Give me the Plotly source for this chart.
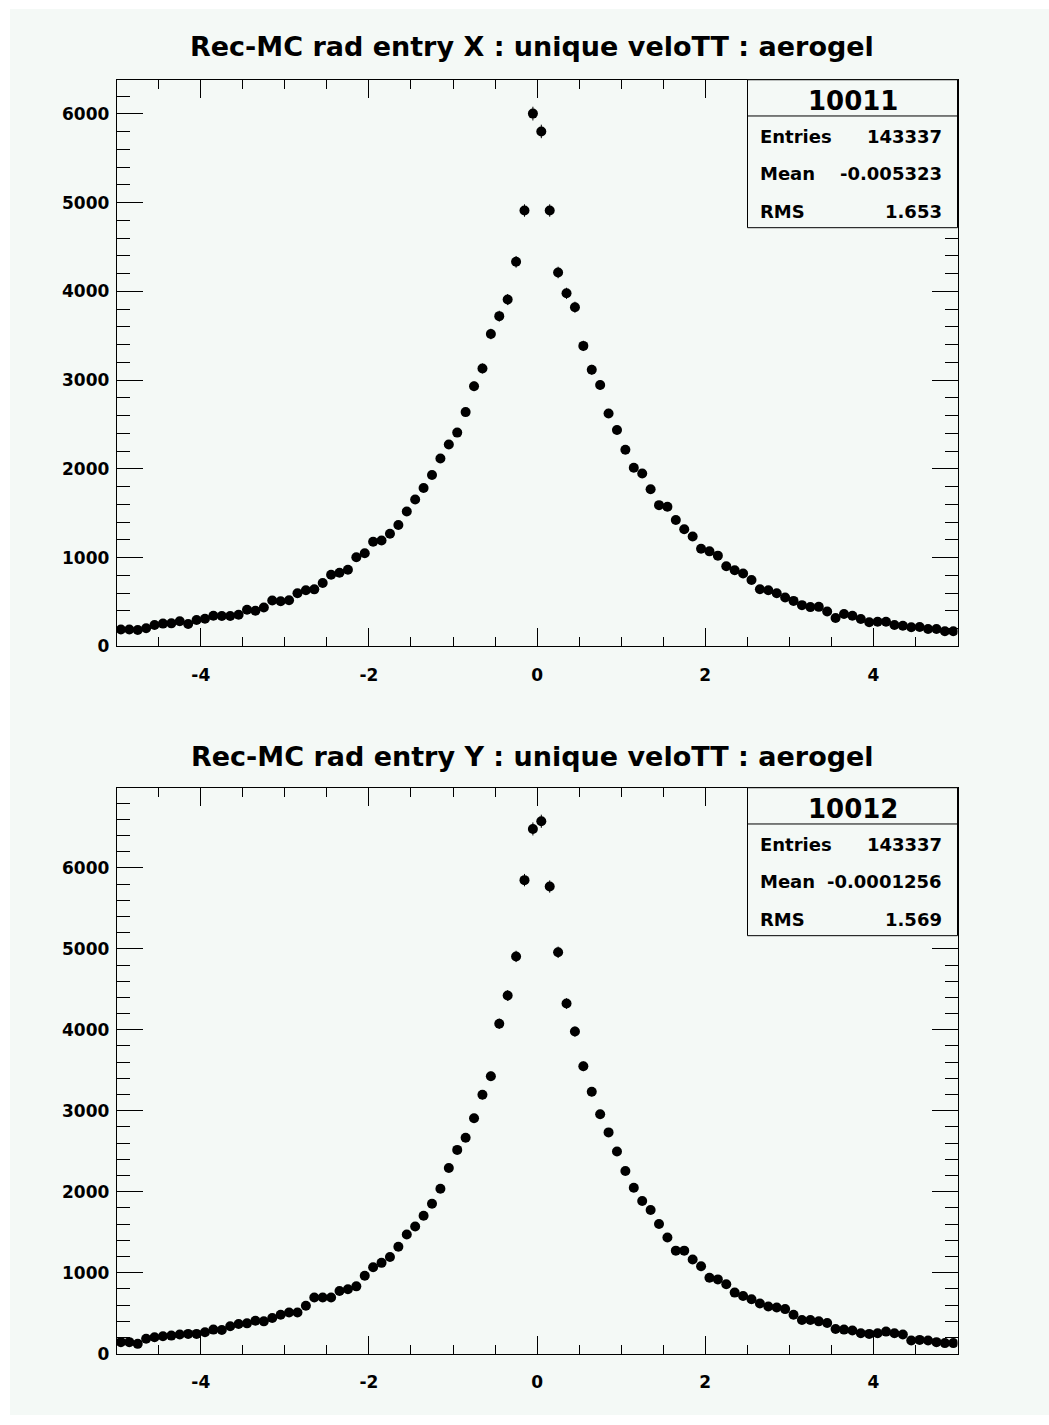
import numpy as np
import plotly.graph_objects as go

# ---------------- data ----------------
bin_lo, bin_hi, n_bins = -5.0, 5.0, 100
bin_centers = [round(bin_lo + (i + 0.5) * (bin_hi - bin_lo) / n_bins, 3) for i in range(n_bins)]

counts_x = [190, 190, 186, 205, 242, 257, 260, 283, 253, 298,
            312, 346, 342, 342, 357, 413, 402, 439, 517, 510,
            521, 599, 632, 643, 714, 807, 830, 863, 1004, 1049,
            1179, 1194, 1269, 1369, 1521, 1655, 1785, 1931, 2118, 2275,
            2409, 2640, 2931, 3132, 3520, 3721, 3908, 4333, 4911, 6003,
            5802, 4911, 4213, 3978, 3822, 3386, 3117, 2946, 2625, 2439,
            2215, 2013, 1948, 1770, 1592, 1574, 1425, 1321, 1239, 1101,
            1071, 1023, 904, 859, 822, 748, 644, 632, 599, 551,
            513, 465, 443, 446, 394, 320, 365, 346, 309, 272,
            279, 279, 242, 234, 216, 219, 197, 197, 171, 171]

counts_y = [143, 143, 122, 184, 204, 216, 224, 237, 245, 245,
            265, 298, 294, 339, 367, 375, 408, 400, 441, 481,
            510, 510, 592, 694, 694, 694, 775, 796, 832, 963,
            1069, 1122, 1195, 1322, 1473, 1570, 1703, 1853, 2037, 2294,
            2517, 2666, 2908, 3198, 3426, 4075, 4423, 4906, 5848, 6480,
            6575, 5769, 4957, 4324, 3978, 3549, 3235, 2957, 2733, 2497,
            2256, 2050, 1885, 1775, 1603, 1436, 1273, 1273, 1163, 1081,
            938, 918, 857, 755, 714, 673, 620, 583, 571, 551,
            481, 416, 416, 400, 379, 306, 298, 286, 253, 245,
            253, 273, 253, 237, 163, 171, 163, 143, 131, 131]

titles = ["Rec-MC rad entry X : unique veloTT : aerogel",
          "Rec-MC rad entry Y : unique veloTT : aerogel"]
hist_ids = ["10011", "10012"]
stat_labels = ["Entries", "Mean", "RMS"]
stat_values = [["143337", "-0.005323", "1.653"],
               ["143337", "-0.0001256", "1.569"]]
x_tickvals = [-4, -2, 0, 2, 4]
x_ticktext = ["-4", "-2", "0", "2", "4"]

# ---------------- layout helpers ----------------
W, H = 1049, 1425
BG = "#f4f9f6"
FONT = "DejaVu Sans"


def px(x):
    return x / W


def py(y):
    return 1 - y / H


FX0, FX1 = 116.7, 957.5
frames = [(80.3, 651.0), (793.3, 1363.3)]   # top/bottom pixel rows of each frame
title_y = [47, 762]

fig = go.Figure()
shapes = []
annotations = []

# background of canvas
shapes.append(dict(type="rect", xref="paper", yref="paper", layer="below",
                   x0=px(10), x1=1, y0=0, y1=py(9),
                   fillcolor=BG, line=dict(width=0)))

for k, counts in enumerate([counts_x, counts_y]):
    counts_arr = np.array(counts, dtype=float)
    errs = np.sqrt(counts_arr)
    xa = "x" if k == 0 else "x2"
    ya = "y" if k == 0 else "y2"
    fig.add_trace(go.Scatter(
        x=bin_centers, y=counts, mode="markers", xaxis=xa, yaxis=ya,
        marker=dict(symbol="circle", size=10, color="black", line=dict(width=0)),
        error_y=dict(type="data", array=errs.tolist(), visible=True,
                     color="black", thickness=1, width=0),
        error_x=dict(type="constant", value=(bin_hi - bin_lo) / n_bins / 2,
                     visible=True, color="black", thickness=1, width=0),
        showlegend=False, hoverinfo="x+y"))

    ymax = 1.05 * float(np.max(counts_arr + errs))
    top, bot = frames[k]
    axis_common = dict(showgrid=False, zeroline=False, showline=True,
                       linecolor="black", linewidth=1, mirror="allticks",
                       ticks="inside", tickcolor="black", tickwidth=1,
                       tickfont=dict(family=FONT, size=17, color="black", weight="bold"))
    xkey = "xaxis" if k == 0 else "xaxis2"
    ykey = "yaxis" if k == 0 else "yaxis2"
    fig.update_layout(**{
        xkey: dict(axis_common, domain=[px(FX0), px(FX1)], range=[bin_lo, bin_hi],
                   anchor=ya, tickmode="array", tickvals=x_tickvals, ticktext=x_ticktext,
                   ticklen=18, ticklabelstandoff=13,
                   minor=dict(dtick=0.5, tick0=0, ticklen=9, tickcolor="black",
                              tickwidth=1, ticks="inside")),
        ykey: dict(axis_common, domain=[py(bot), py(top)], range=[0, ymax],
                   anchor=xa, dtick=1000, tick0=0, ticklen=26, ticklabelstandoff=3,
                   minor=dict(dtick=200, tick0=0, ticklen=13, tickcolor="black",
                              tickwidth=1, ticks="inside")),
    })

    # title
    annotations.append(dict(xref="paper", yref="paper", x=px(532), y=py(title_y[k]),
                            text="<b>%s</b>" % titles[k], showarrow=False,
                            xanchor="center", yanchor="middle",
                            font=dict(family=FONT, size=27, color="black")))

    # stats box
    bx0, bx1 = 747.5, FX1
    by0, by1 = top, top + 149
    sep = top + 36.5
    shapes.append(dict(type="rect", xref="paper", yref="paper", layer="above",
                       x0=px(bx0), x1=px(bx1), y0=py(by1), y1=py(by0),
                       fillcolor=BG, line=dict(color="black", width=1)))
    shapes.append(dict(type="line", xref="paper", yref="paper", layer="above",
                       x0=px(bx0), x1=px(bx1), y0=py(sep), y1=py(sep),
                       line=dict(color="black", width=1)))
    annotations.append(dict(xref="paper", yref="paper", x=px((bx0 + bx1) / 2),
                            y=py(top + 21), text="<b>%s</b>" % hist_ids[k],
                            showarrow=False, xanchor="center", yanchor="middle",
                            font=dict(family=FONT, size=26, color="black")))
    row_h = (by1 - sep) / 3
    for j, lab in enumerate(stat_labels):
        yc = sep + row_h * (j + 0.5) + 2
        annotations.append(dict(xref="paper", yref="paper", x=px(758), y=py(yc),
                                text="<b>%s</b>" % lab, showarrow=False,
                                xanchor="left", yanchor="middle",
                                font=dict(family=FONT, size=18, color="black")))
        annotations.append(dict(xref="paper", yref="paper", x=px(944), y=py(yc),
                                text="<b>%s</b>" % stat_values[k][j], showarrow=False,
                                xanchor="right", yanchor="middle",
                                font=dict(family=FONT, size=18, color="black")))

fig.update_layout(width=W, height=H, margin=dict(l=0, r=0, t=0, b=0, pad=0),
                  paper_bgcolor="white", plot_bgcolor=BG,
                  font=dict(family=FONT, color="black"),
                  shapes=shapes, annotations=annotations)

fig.write_html("out.html", config={"displayModeBar": False},
               post_script="document.body.style.margin='0';document.body.style.overflow='hidden';")
